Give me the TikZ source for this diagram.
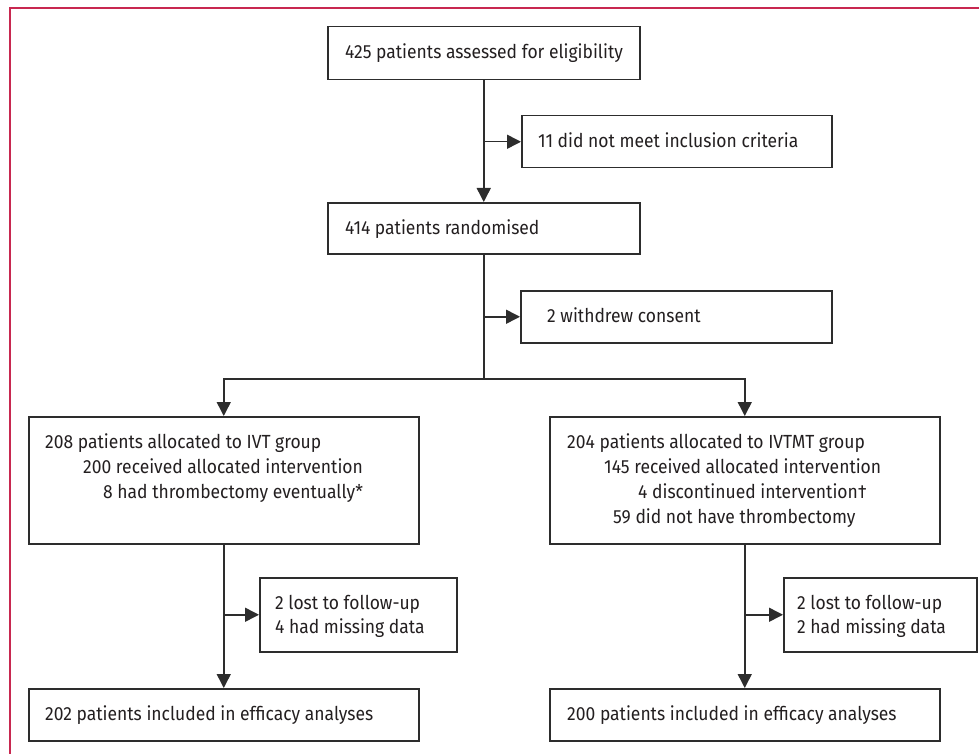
\documentclass[tikz,border=0pt]{standalone}
\usepackage{fontspec}
\setmainfont[FakeStretch=0.92]{Fira Sans}
\usetikzlibrary{arrows.meta}
\definecolor{framecol}{RGB}{200,40,80}
\definecolor{ink}{RGB}{35,31,32}
\definecolor{edgecol}{RGB}{45,45,45}
\begin{document}
\begin{tikzpicture}[x=1pt,y=-1pt,
  box/.style={draw=edgecol, line width=1.5pt, inner sep=0pt, anchor=north west},
  txt/.style={anchor=base west, inner sep=0pt, text=ink, font=\fontsize{19}{25}\selectfont},
  link/.style={draw=edgecol, line width=1.5pt},
  arr/.style={link, -{Triangle[length=14pt,width=14pt]}}
]
\useasboundingbox (0,0) rectangle (979,754);
% frame (top and left edges)
\draw[framecol, line width=2.5pt] (10,754) -- (10,8) -- (979,8);

% boxes
\node[box, minimum width=312pt, minimum height=53pt] (b1) at (327,26) {};
\node[box, minimum width=310pt, minimum height=52pt] (b2) at (521,115) {};
\node[box, minimum width=312pt, minimum height=51pt] (b3) at (327,202) {};
\node[box, minimum width=311pt, minimum height=52pt] (b4) at (520,290) {};
\node[box, minimum width=390pt, minimum height=127pt] (b5) at (28,416) {};
\node[box, minimum width=390pt, minimum height=127pt] (b6) at (549,416) {};
\node[box, minimum width=197pt, minimum height=74pt] (b7) at (259,577) {};
\node[box, minimum width=390pt, minimum height=52pt] (b8) at (28,688) {};
\node[box, minimum width=193pt, minimum height=74pt] (b9) at (783,577) {};
\node[box, minimum width=390pt, minimum height=52pt] (b10) at (549,688) {};

% texts
\node[txt] (t1) at (345,59) {425 patients assessed for eligibility};
\node[txt] (t2) at (538,147.5) {11 did not meet inclusion criteria};
\node[txt] (t3) at (345,234) {414 patients randomised};
\node[txt] (t4) at (547,322.5) {2 withdrew consent};
\node[txt] (t5a) at (45,448.5) {208 patients allocated to IVT group};
\node[txt] (t5b) at (83,473.5) {200 received allocated intervention};
\node[txt] (t5c) at (103,498.5) {8 had thrombectomy eventually*};
\node[txt] (t6a) at (567,448.5) {204 patients allocated to IVTMT group};
\node[txt] (t6b) at (604,473.5) {145 received allocated intervention};
\node[txt] (t6c) at (638,498.5) {4 discontinued intervention†};
\node[txt] (t6d) at (613,523.5) {59 did not have thrombectomy};
\node[txt] (t7a) at (275,609.5) {2 lost to follow-up};
\node[txt] (t7b) at (275,633.5) {4 had missing data};
\node[txt] (t9a) at (797,609.5) {2 lost to follow-up};
\node[txt] (t9b) at (797,633.5) {2 had missing data};
\node[txt] (t8) at (45,720.5) {202 patients included in efficacy analyses};
\node[txt] (t10) at (567,720.5) {200 patients included in efficacy analyses};

% connectors
\coordinate (split) at (b3.south |- 0,379);
\draw[arr] (b1.south) -- (b3.north);
\draw[arr] (b1.south |- b2.west) -- (b2.west);
\draw[link] (b3.south) -- (split);
\draw[arr] (b3.south |- b4.west) -- (b4.west);
\draw[arr] (split) -| (b5.north);
\draw[arr] (split) -| (b6.north);
\draw[arr] (b5.south) -- (b8.north);
\draw[arr] (b5.south |- b7.west) -- (b7.west);
\draw[arr] (b6.south) -- (b10.north);
\draw[arr] (b6.south |- b9.west) -- (b9.west);
\end{tikzpicture}
\end{document}
